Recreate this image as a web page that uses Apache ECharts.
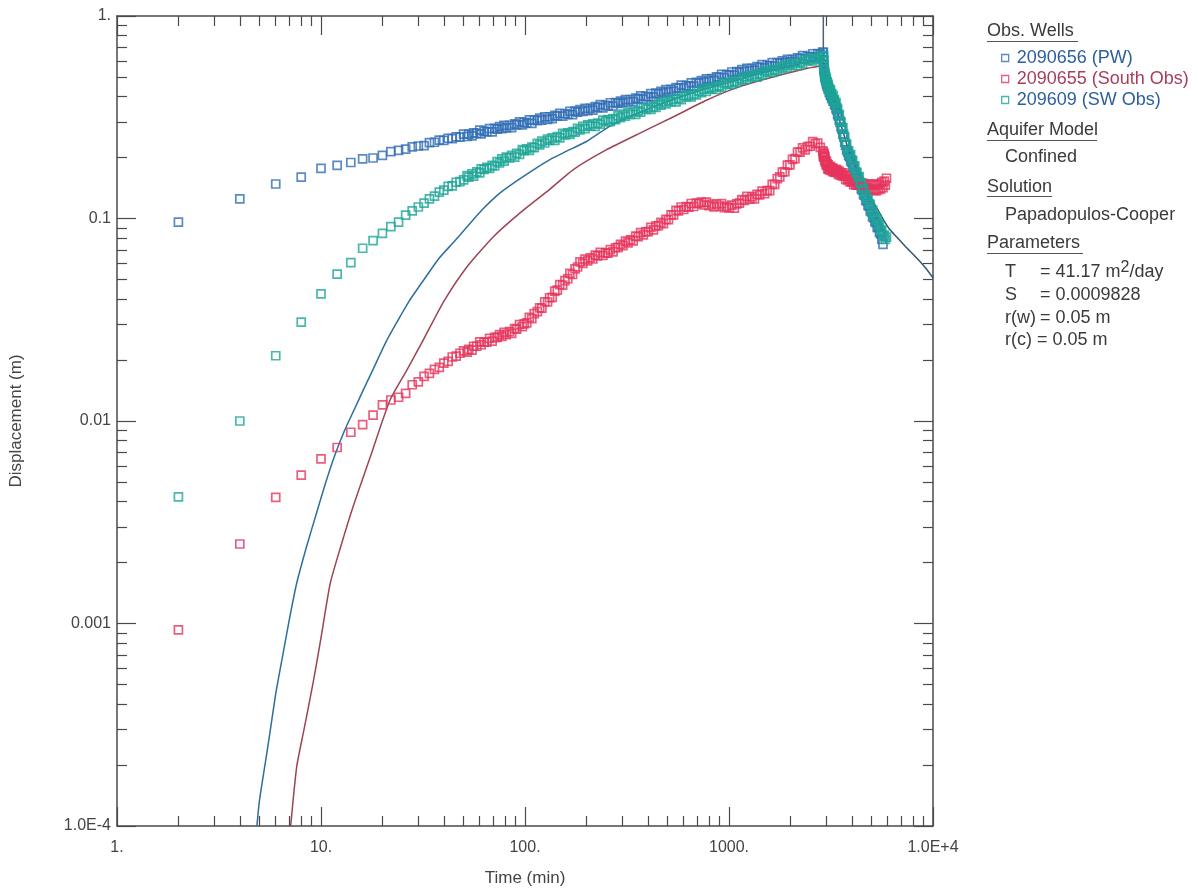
<!DOCTYPE html>
<html>
<head>
<meta charset="utf-8">
<title>Displacement vs Time</title>
<script src="https://cdn.jsdelivr.net/npm/echarts@6/dist/echarts.min.js"></script>
<style>
  html, body { margin: 0; padding: 0; background: #fff; }
  #main { width: 1198px; height: 892px; }
</style>
</head>
<body>
<div id="main"></div>
<script>
// ---- axis ticks ----
var xMajor = [1, 10, 100, 1000, 10000]
var xTickLabels = ['1.', '10.', '100.', '1000.', '1.0E+4']
var xMinor = [2, 3, 4, 5, 6, 7, 8, 9, 20, 30, 40, 50, 60, 70, 80, 90, 200, 300, 400, 500, 600, 700, 800, 900, 2000, 3000, 4000, 5000, 6000, 7000, 8000, 9000]
var yMajor = [0.0001, 0.001, 0.01, 0.1, 1]
var yTickLabels = ['1.0E-4', '0.001', '0.01', '0.1', '1.']
var yMinor = [0.0002, 0.0003, 0.0004, 0.0005, 0.0006, 0.0007, 0.0008, 0.0009, 0.002, 0.003, 0.004, 0.005, 0.006, 0.007, 0.008, 0.009, 0.02, 0.03, 0.04, 0.05, 0.06, 0.07, 0.08, 0.09, 0.2, 0.3, 0.4, 0.5, 0.6, 0.7, 0.8, 0.9]

// ---- observed data, pumping period (time in min, displacement in m) ----
var tPump = [2, 4, 6, 8, 10, 12, 14, 16, 18, 20, 22, 24, 26, 28, 30, 32, 34, 36, 38, 40, 42, 44, 46, 48,
  50, 52, 53, 55, 56, 58, 60, 61, 63, 65, 67, 69, 71, 73, 75, 77, 79, 81, 84, 86,
  89, 91, 94, 97, 99, 102, 105, 108, 111, 115, 118, 121, 125, 129, 132, 136, 140, 144, 148, 153,
  157, 162, 166, 171, 176, 181, 186, 192, 197, 203, 209, 215, 221, 227, 234, 241, 248, 255, 262, 270,
  278, 286, 294, 302, 311, 320, 329, 339, 349, 359, 369, 380, 391, 402, 414, 426, 438, 451, 464, 477,
  491, 505, 520, 535, 550, 566, 583, 600, 617, 635, 653, 672, 692, 712, 732, 754, 775, 798, 821, 845,
  869, 894, 920, 947, 974, 1003, 1032, 1062, 1092, 1124, 1156, 1190, 1224, 1260, 1296, 1334, 1372, 1412, 1453, 1495,
  1538, 1583, 1629, 1676, 1724, 1774, 1826, 1879, 1933, 1989, 2047, 2106, 2167, 2230, 2294, 2361, 2429, 2500, 2572, 2647,
  2723, 2802, 2883]
var pwPump = [0.096, 0.125, 0.148, 0.160, 0.177, 0.183, 0.189, 0.197, 0.199, 0.205, 0.214, 0.217, 0.220, 0.226, 0.228, 0.229, 0.237, 0.238, 0.244, 0.243, 0.249, 0.248, 0.253, 0.252,
  0.261, 0.254, 0.261, 0.256, 0.265, 0.263, 0.273, 0.262, 0.270, 0.268, 0.278, 0.268, 0.279, 0.276, 0.284, 0.278, 0.288, 0.280, 0.288, 0.281,
  0.293, 0.290, 0.300, 0.290, 0.298, 0.296, 0.307, 0.295, 0.307, 0.304, 0.313, 0.306, 0.318, 0.309, 0.318, 0.311, 0.323, 0.320, 0.331, 0.320,
  0.329, 0.327, 0.338, 0.326, 0.339, 0.335, 0.345, 0.338, 0.350, 0.341, 0.350, 0.343, 0.357, 0.353, 0.365, 0.352, 0.362, 0.360, 0.373, 0.359,
  0.374, 0.370, 0.380, 0.372, 0.386, 0.376, 0.386, 0.378, 0.393, 0.389, 0.403, 0.389, 0.401, 0.399, 0.414, 0.399, 0.416, 0.412, 0.425, 0.417,
  0.433, 0.422, 0.434, 0.425, 0.443, 0.440, 0.456, 0.440, 0.453, 0.451, 0.468, 0.451, 0.470, 0.466, 0.480, 0.471, 0.489, 0.477, 0.491, 0.481,
  0.501, 0.497, 0.515, 0.497, 0.513, 0.510, 0.529, 0.510, 0.532, 0.527, 0.543, 0.532, 0.551, 0.537, 0.552, 0.540, 0.562, 0.556, 0.576, 0.555,
  0.571, 0.567, 0.588, 0.566, 0.589, 0.584, 0.600, 0.588, 0.610, 0.594, 0.610, 0.597, 0.622, 0.616, 0.637, 0.614, 0.632, 0.628, 0.651, 0.627,
  0.652, 0.645, 0.664]
var southPump = [0.00093, 0.00247, 0.0042, 0.0054, 0.0065, 0.0074, 0.0088, 0.0096, 0.0107, 0.0120, 0.0127, 0.0131, 0.0137, 0.0151, 0.0156, 0.0166, 0.0172, 0.0180, 0.0184, 0.0193, 0.0197, 0.0207, 0.0209, 0.0216,
  0.0222, 0.0219, 0.0226, 0.0224, 0.0234, 0.0234, 0.0246, 0.0238, 0.0245, 0.0245, 0.0256, 0.0248, 0.0259, 0.0259, 0.0267, 0.0262, 0.0274, 0.0267, 0.0276, 0.0271,
  0.0286, 0.0284, 0.0299, 0.0292, 0.0302, 0.0305, 0.0325, 0.0320, 0.0339, 0.0347, 0.0362, 0.0361, 0.0388, 0.0387, 0.0406, 0.0408, 0.0438, 0.0443, 0.0471, 0.0469,
  0.0493, 0.0504, 0.0536, 0.0529, 0.0564, 0.0576, 0.0610, 0.0601, 0.0630, 0.0618, 0.0640, 0.0631, 0.0660, 0.0654, 0.0680, 0.0658, 0.0677, 0.0674, 0.0702, 0.0684,
  0.0717, 0.0720, 0.0746, 0.0735, 0.0773, 0.0758, 0.0785, 0.0775, 0.0818, 0.0814, 0.0852, 0.0830, 0.0860, 0.0861, 0.0903, 0.0878, 0.0918, 0.0922, 0.0956, 0.0942,
  0.0989, 0.0986, 0.1043, 0.1042, 0.1096, 0.1090, 0.1140, 0.1108, 0.1144, 0.1138, 0.1186, 0.1146, 0.1191, 0.1183, 0.1205, 0.1166, 0.1204, 0.1157, 0.1179, 0.1141,
  0.1179, 0.1153, 0.1184, 0.1131, 0.1149, 0.1129, 0.1164, 0.1125, 0.1181, 0.1191, 0.1240, 0.1227, 0.1287, 0.1247, 0.1278, 0.1250, 0.1315, 0.1307, 0.1365, 0.1328,
  0.1373, 0.1373, 0.1475, 0.1473, 0.1572, 0.1605, 0.1696, 0.1702, 0.1833, 0.1841, 0.1958, 0.1977, 0.2127, 0.2127, 0.2232, 0.2181, 0.2267, 0.2274, 0.2399, 0.2342,
  0.2359, 0.2246, 0.2159]
var swPump = [0.00422, 0.0100, 0.0210, 0.0308, 0.0424, 0.0531, 0.0605, 0.0713, 0.0777, 0.0845, 0.0911, 0.0960, 0.104, 0.109, 0.114, 0.119, 0.125, 0.129, 0.135, 0.138, 0.144, 0.145, 0.151, 0.152,
  0.155, 0.163, 0.160, 0.166, 0.162, 0.170, 0.168, 0.176, 0.175, 0.179, 0.177, 0.183, 0.182, 0.191, 0.188, 0.197, 0.192, 0.201, 0.199, 0.205,
  0.201, 0.210, 0.207, 0.219, 0.216, 0.221, 0.217, 0.225, 0.224, 0.235, 0.231, 0.241, 0.236, 0.247, 0.243, 0.250, 0.243, 0.254, 0.250, 0.263,
  0.259, 0.265, 0.260, 0.269, 0.267, 0.279, 0.274, 0.285, 0.278, 0.290, 0.286, 0.293, 0.285, 0.296, 0.292, 0.306, 0.301, 0.308, 0.301, 0.311,
  0.308, 0.321, 0.315, 0.328, 0.320, 0.333, 0.327, 0.336, 0.327, 0.340, 0.335, 0.352, 0.346, 0.353, 0.346, 0.357, 0.354, 0.369, 0.363, 0.377,
  0.368, 0.383, 0.377, 0.387, 0.377, 0.392, 0.386, 0.405, 0.399, 0.407, 0.399, 0.412, 0.408, 0.426, 0.418, 0.435, 0.424, 0.442, 0.435, 0.447,
  0.434, 0.452, 0.445, 0.467, 0.460, 0.469, 0.460, 0.475, 0.470, 0.491, 0.482, 0.501, 0.488, 0.508, 0.500, 0.513, 0.499, 0.519, 0.510, 0.536,
  0.527, 0.537, 0.526, 0.543, 0.537, 0.560, 0.550, 0.571, 0.557, 0.580, 0.570, 0.586, 0.569, 0.592, 0.582, 0.611, 0.601, 0.613, 0.600, 0.620,
  0.613, 0.639, 0.627]

// ---- observed data, recovery period ----
var tRec = [2900, 2903, 2907, 2912, 2918, 2926, 2935, 2945, 2955, 2966, 2978, 2990, 3003, 3017, 3032, 3048, 3065, 3083, 3102, 3122,
  3143, 3165, 3188, 3212, 3237, 3263, 3290, 3318, 3347, 3377, 3408, 3440, 3473, 3507, 3542, 3578, 3615, 3653, 3692, 3732,
  3773, 3815, 3858, 3902, 3947, 3993, 4040, 4088, 4137, 4187, 4238, 4290, 4343, 4397, 4452, 4508, 4565, 4623, 4682, 4742,
  4803, 4865, 4928, 4992, 5057, 5123, 5190, 5258, 5327, 5397, 5468, 5540, 5613, 5687, 5762, 5838, 5915]
var pwRec = [0.660, 0.635, 0.605, 0.578, 0.556, 0.540, 0.528, 0.514, 0.500, 0.495, 0.482, 0.478, 0.464, 0.461, 0.450, 0.448, 0.435, 0.434, 0.420, 0.419,
  0.405, 0.406, 0.392, 0.393, 0.380, 0.380, 0.366, 0.364, 0.349, 0.344, 0.327, 0.321, 0.306, 0.298, 0.283, 0.276, 0.261, 0.253, 0.238, 0.230,
  0.218, 0.213, 0.205, 0.202, 0.193, 0.190, 0.181, 0.179, 0.170, 0.168, 0.159, 0.158, 0.150, 0.148, 0.140, 0.139, 0.131, 0.130, 0.123, 0.122,
  0.116, 0.115, 0.109, 0.108, 0.102, 0.101, 0.0965, 0.0955, 0.0905, 0.0900, 0.0855, 0.0840, 0.0790, 0.0745]
var southRec = [0.212, 0.203, 0.208, 0.202, 0.209, 0.201, 0.204, 0.194, 0.201, 0.190, 0.193, 0.185, 0.191, 0.183, 0.186, 0.176, 0.184, 0.175, 0.180, 0.174,
  0.181, 0.175, 0.178, 0.171, 0.177, 0.170, 0.174, 0.169, 0.175, 0.170, 0.173, 0.165, 0.171, 0.164, 0.168, 0.163, 0.168, 0.162, 0.164, 0.156,
  0.162, 0.155, 0.158, 0.152, 0.157, 0.151, 0.153, 0.147, 0.153, 0.146, 0.150, 0.146, 0.152, 0.146, 0.149, 0.142, 0.149, 0.142, 0.146, 0.142,
  0.148, 0.140, 0.147, 0.139, 0.148, 0.139, 0.147, 0.137, 0.147, 0.139, 0.148, 0.140, 0.151, 0.142, 0.153, 0.146, 0.158]
var swRec = [0.632, 0.600, 0.598, 0.563, 0.570, 0.543, 0.542, 0.508, 0.522, 0.494, 0.501, 0.480, 0.489, 0.470, 0.472, 0.448, 0.460, 0.434, 0.438, 0.422,
  0.432, 0.413, 0.414, 0.392, 0.404, 0.381, 0.386, 0.368, 0.374, 0.353, 0.347, 0.323, 0.326, 0.302, 0.299, 0.281, 0.280, 0.260, 0.252, 0.231,
  0.233, 0.216, 0.216, 0.205, 0.207, 0.195, 0.193, 0.179, 0.182, 0.169, 0.169, 0.160, 0.161, 0.151, 0.149, 0.138, 0.141, 0.131, 0.130, 0.124,
  0.125, 0.118, 0.117, 0.108, 0.110, 0.103, 0.103, 0.0975, 0.0994, 0.0935, 0.0924, 0.0868, 0.0877, 0.0823, 0.0828, 0.0788, 0.0810]

// ---- Papadopulos-Cooper type curves ----
var fitSwT = [4.85, 5.0, 5.5, 6.0, 6.5, 7.0, 7.6, 8.5, 9.5, 10.5, 11.7, 13, 14.5, 16, 18, 21, 24, 27, 32, 38, 45, 52, 62, 75, 90, 110, 133, 160, 200, 260, 350, 500, 700, 1000, 1400, 2000, 2500, 2900]
var fitSwV = [1.0e-4, 1.35e-4, 2.5e-4, 4.5e-4, 7.0e-4, 1.05e-3, 1.58e-3, 2.4e-3, 3.5e-3, 4.9e-3, 6.8e-3, 8.9e-3, 0.0113, 0.0140, 0.0180, 0.0250, 0.0318, 0.039, 0.050, 0.0638, 0.077, 0.091, 0.111, 0.133, 0.152, 0.174, 0.196, 0.215, 0.24, 0.285, 0.328, 0.378, 0.425, 0.47, 0.518, 0.565, 0.598, 0.618]
var fitSouthT = [7.1, 7.6, 8.2, 9.15, 10, 11.1, 12.5, 14.4, 17.4, 21.8, 26.4, 31.7, 40, 52, 70, 94, 133, 172, 250, 366, 535, 780, 1130, 1660, 2420, 2900]
var fitSouthV = [1.0e-4, 1.96e-4, 2.9e-4, 5.1e-4, 8.5e-4, 1.58e-3, 2.4e-3, 3.8e-3, 6.6e-3, 0.0127, 0.0179, 0.0251, 0.039, 0.0578, 0.0813, 0.106, 0.140, 0.174, 0.218, 0.264, 0.318, 0.385, 0.448, 0.501, 0.552, 0.570]
var fitRecT = [2900, 2920, 2950, 3000, 3100, 3200, 3300, 3500, 3700, 3850, 4000, 4228, 4600, 5000, 5300, 5700, 6100, 6640, 7300, 8300, 9200, 10000]
var fitRecV = [0.618, 0.56, 0.52, 0.48, 0.44, 0.405, 0.372, 0.30, 0.25, 0.218, 0.20, 0.174, 0.148, 0.125, 0.113, 0.099, 0.089, 0.081, 0.073, 0.064, 0.057, 0.051]
var fitPwT = [2900, 2900]
var fitPwV = [3, 0.62]

var FONT = '"Liberation Sans", Arial, sans-serif'
var TXT = '#444'
var AXIS = '#4a4a4a'

function pairs(ts, vs) {
  return vs.map(function (v, i) { return [ts[i], v] })
}
function tickLabel(v, vals, labels) {
  for (var i = 0; i < vals.length; i++) {
    if (Math.abs(Math.log10(v) - Math.log10(vals[i])) < 1e-6) return labels[i]
  }
  return ''
}

function logAxis(dim, position, showLine, ticks, tickLen) {
  return {
    type: 'log',
    logBase: 10,
    min: dim === 'x' ? 1 : 0.0001,
    max: dim === 'x' ? 10000 : 1,
    position: position,
    axisLine: { show: showLine, onZero: false, lineStyle: { color: AXIS, width: 1.5 } },
    axisTick: { show: true, inside: true, length: tickLen, customValues: ticks, lineStyle: { color: AXIS, width: 1.2 } },
    axisLabel: { show: false },
    splitLine: { show: false },
    minorTick: { show: false }
  }
}

var xMain = logAxis('x', 'bottom', true, xMajor, 19)
xMain.axisLabel = {
  show: true, customValues: xMajor, margin: 14, fontSize: 16, fontFamily: FONT, color: TXT,
  formatter: function (v) { return tickLabel(v, xMajor, xTickLabels) }
}
xMain.name = 'Time (min)'
xMain.nameLocation = 'middle'
xMain.nameGap = 44
xMain.nameTextStyle = { fontSize: 17, fontFamily: FONT, color: TXT }

var yMain = logAxis('y', 'left', true, yMajor, 19)
yMain.axisLabel = {
  show: true, customValues: yMajor, margin: 6, fontSize: 16, fontFamily: FONT, color: TXT,
  formatter: function (v) { return tickLabel(v, yMajor, yTickLabels) }
}
yMain.name = 'Displacement (m)'
yMain.nameLocation = 'middle'
yMain.nameGap = 92
yMain.nameTextStyle = { fontSize: 17, fontFamily: FONT, color: TXT }

var myChart = echarts.init(document.getElementById('main'))

var baseText = { fontSize: 18, fontFamily: FONT, fill: '#3a3a3a', verticalAlign: 'middle' }
function txt(x, y, s) {
  return { type: 'text', x: x, y: y, style: Object.assign({ text: s }, baseText) }
}
function uline(x1, x2, y) {
  return { type: 'line', shape: { x1: x1, y1: y, x2: x2, y2: y }, style: { stroke: '#555', lineWidth: 1.2 } }
}
function scatter(name, data, color) {
  return {
    name: name, type: 'scatter', symbol: 'rect', symbolSize: 8, data: data, z: 3,
    itemStyle: { color: 'rgba(0,0,0,0)', borderColor: color, borderWidth: 1.7 }
  }
}
function curve(name, data, color) {
  return { name: name, type: 'line', data: data, showSymbol: false, symbol: 'none', smooth: 0.2, z: 2, lineStyle: { color: color, width: 1.5 } }
}

myChart.setOption({
  animation: false,
  backgroundColor: '#fff',
  grid: { left: 117, top: 16, right: 265, bottom: 66 },
  xAxis: [
    xMain,
    logAxis('x', 'bottom', false, xMinor, 10),
    logAxis('x', 'top', true, xMajor, 19),
    logAxis('x', 'top', false, xMinor, 10)
  ],
  yAxis: [
    yMain,
    logAxis('y', 'left', false, yMinor, 10),
    logAxis('y', 'right', true, yMajor, 19),
    logAxis('y', 'right', false, yMinor, 10)
  ],
  legend: {
    orient: 'vertical',
    left: 1001,
    top: 48,
    padding: 0,
    itemGap: 1,
    itemWidth: 7,
    itemHeight: 7,
    icon: 'rect',
    textStyle: { fontSize: 18, lineHeight: 20, fontFamily: FONT, padding: [0, 0, 0, 3] },
    data: [
      { name: '2090656 (PW)', textStyle: { color: '#2b5f9e' }, itemStyle: { color: 'rgba(0,0,0,0)', borderColor: '#2f6db5', borderWidth: 1.3 } },
      { name: '2090655 (South Obs)', textStyle: { color: '#a83f5a' }, itemStyle: { color: 'rgba(0,0,0,0)', borderColor: '#e6355d', borderWidth: 1.3 } },
      { name: '209609 (SW Obs)', textStyle: { color: '#2b5f9e' }, itemStyle: { color: 'rgba(0,0,0,0)', borderColor: '#1ba596', borderWidth: 1.3 } }
    ]
  },
  graphic: [
    txt(987, 31, 'Obs. Wells'), uline(987, 1078, 41.5),
    txt(987, 130, 'Aquifer Model'), uline(987, 1097, 140.5),
    txt(1005, 157, 'Confined'),
    txt(987, 187, 'Solution'), uline(987, 1052, 196.5),
    txt(1005, 215, 'Papadopulos-Cooper'),
    txt(987, 243, 'Parameters'), uline(987, 1083, 253.5),
    txt(1005, 272, 'T'),
    {
      type: 'text', x: 1040, y: 272,
      style: {
        text: '{n|= 41.17 m}{s|2}{n|/day}', fontFamily: FONT, fill: '#3a3a3a', verticalAlign: 'middle',
        rich: { n: { fontSize: 18, fontFamily: FONT }, s: { fontSize: 16, fontFamily: FONT, padding: [0, 0, 9, 0] } }
      }
    },
    txt(1005, 295, 'S'), txt(1040, 295, '= 0.0009828'),
    txt(1005, 318, 'r(w)'), txt(1040, 318, '= 0.05 m'),
    txt(1005, 340, 'r(c)'), txt(1037, 340, '= 0.05 m')
  ],
  series: [
    curve('fit South', pairs(fitSouthT, fitSouthV), '#9c4452'),
    curve('fit SW', pairs(fitSwT, fitSwV), '#2c6e9c'),
    curve('fit recovery', pairs(fitRecT, fitRecV), '#35566f'),
    { name: 'fit PW', type: 'line', data: pairs(fitPwT, fitPwV), showSymbol: false, symbol: 'none', z: 2, lineStyle: { color: '#4b6377', width: 1.5 } },
    scatter('2090656 (PW)', pairs(tPump, pwPump).concat(pairs(tRec, pwRec)), '#2f6db5'),
    scatter('2090655 (South Obs)', pairs(tPump, southPump).concat(pairs(tRec, southRec)), '#e6355d'),
    scatter('209609 (SW Obs)', pairs(tPump, swPump).concat(pairs(tRec, swRec)), '#1ba596')
  ]
})
</script>
</body>
</html>
